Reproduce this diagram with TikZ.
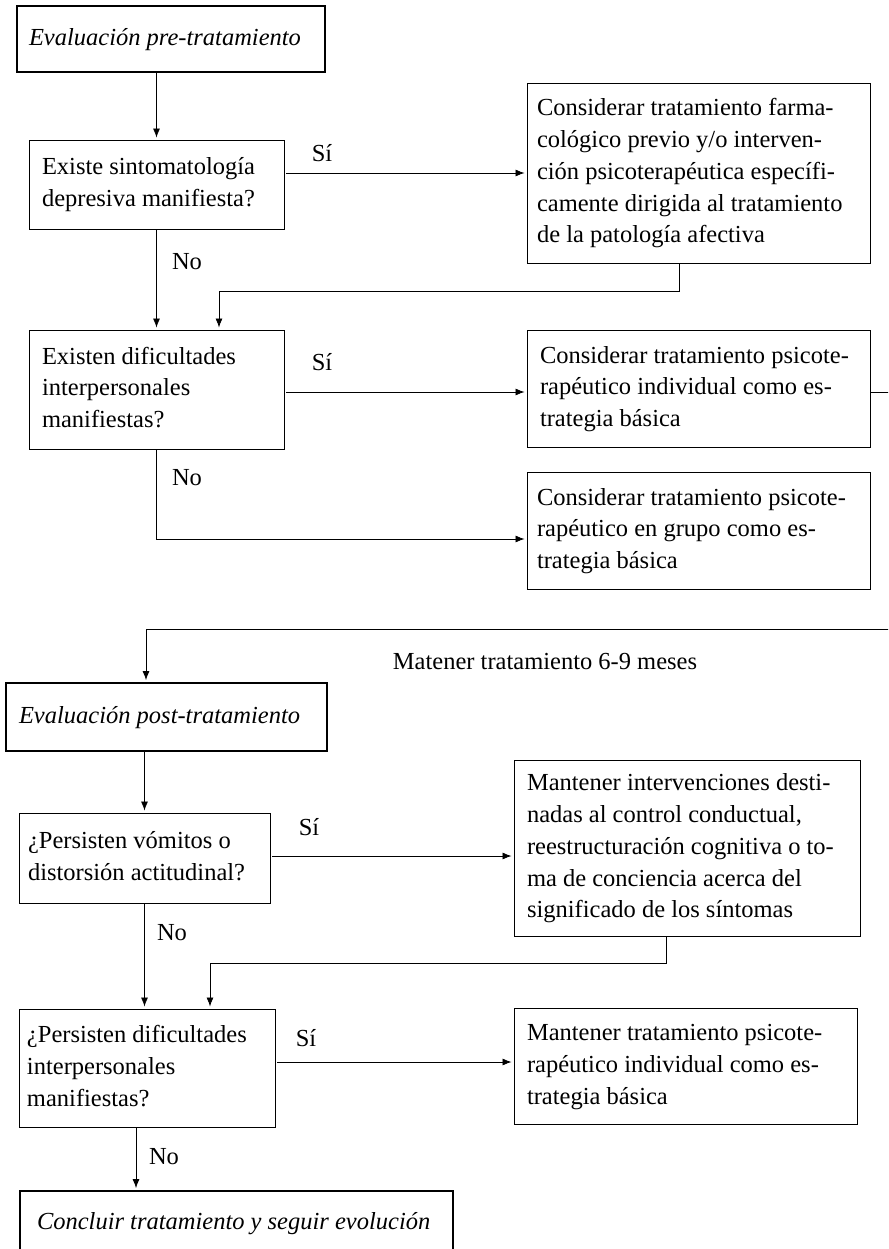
\documentclass[tikz,border=0pt]{standalone}
\usepackage{fontspec}
\setmainfont{Liberation Serif}
\usetikzlibrary{arrows.meta}
\newcommand\tbx[2]{\makebox[#1][l]{\begin{tabular}{@{}l@{}}#2\end{tabular}}}
\begin{document}
\begin{tikzpicture}[x=1pt,y=-1pt,
  font=\fontsize{24.5}{31.7}\selectfont,
  bx/.style={draw, line width=0.9pt, inner ysep=0pt},
  hv/.style={bx, line width=1.8pt, font=\fontsize{24.5}{31.7}\selectfont\itshape},
  arr/.style={line width=0.8pt, shorten >=2pt, -{Latex[length=9pt,width=7pt]}},
  lbl/.style={inner sep=0pt}]
\useasboundingbox (0,0) rectangle (888,1249);
\clip (0,0) rectangle (888,1249);

% boxes
\node[hv, inner xsep=12pt, minimum width=308pt, minimum height=66pt] (pre) at (171,39) {\tbx{284pt}{Evaluación pre-tratamiento}};
\node[bx, inner xsep=13pt, minimum width=255pt, minimum height=89pt] (dep) at (156.5,184.5) {\tbx{229pt}{Existe sintomatología\\depresiva manifiesta?}};
\node[bx, inner xsep=10pt, minimum width=343pt, minimum height=180pt] (farm) at (698.5,173) {\tbx{323pt}{Considerar tratamiento farma-\\cológico previo y/o interven-\\ción psicoterapéutica específi-\\camente dirigida al tratamiento\\de la patología afectiva}};
\node[bx, inner xsep=13pt, minimum width=255pt, minimum height=119pt] (dif) at (156.5,389.5) {\tbx{229pt}{Existen dificultades\\interpersonales\\manifiestas?}};
\node[bx, inner xsep=13pt, minimum width=343pt, minimum height=117pt] (ind) at (698.5,388.5) {\tbx{317pt}{Considerar tratamiento psicote-\\rapéutico individual como es-\\trategia básica}};
\node[bx, inner xsep=10pt, minimum width=343pt, minimum height=117pt] (grp) at (698.5,530.5) {\tbx{323pt}{Considerar tratamiento psicote-\\rapéutico en grupo como es-\\trategia básica}};
\node[hv, inner xsep=13pt, minimum width=321pt, minimum height=68pt] (post) at (166.5,717) {\tbx{295pt}{Evaluación post-tratamiento}};
\node[bx, inner xsep=13pt, minimum width=346pt, minimum height=176pt] (mant) at (687,848) {\tbx{320pt}{Mantener intervenciones desti-\\nadas al control conductual,\\reestructuración cognitiva o to-\\ma de conciencia acerca del\\significado de los síntomas}};
\node[bx, inner xsep=9pt, minimum width=251pt, minimum height=90pt] (vom) at (144.5,858) {\tbx{233pt}{¿Persisten vómitos o\\distorsión actitudinal?}};
\node[bx, inner xsep=8pt, minimum width=256pt, minimum height=118pt] (pdif) at (147,1068) {\tbx{240pt}{¿Persisten dificultades\\interpersonales\\manifiestas?}};
\node[bx, inner xsep=13pt, minimum width=343pt, minimum height=116pt] (mind) at (685.5,1066) {\tbx{317pt}{Mantener tratamiento psicote-\\rapéutico individual como es-\\trategia básica}};
\node[hv, inner xsep=17pt, minimum width=433pt, minimum height=64pt] (concl) at (236.5,1223) {\tbx{399pt}{Concluir tratamiento y seguir evolución}};

% labels
\node[lbl] (s1) at (322,153) {Sí};
\node[lbl] (n1) at (187,262) {No};
\node[lbl] (s2) at (322,362) {Sí};
\node[lbl] (n2) at (187,478) {No};
\node[lbl] (mt) at (545,662) {Matener tratamiento 6-9 meses};
\node[lbl] (s3) at (309,827) {Sí};
\node[lbl] (n3) at (172,933) {No};
\node[lbl] (s4) at (306,1038) {Sí};
\node[lbl] (n4) at (164,1157) {No};

% helper coordinates
\coordinate (ia) at ([yshift=-3.5pt]ind.west);
\coordinate (ie) at ([yshift=-3.5pt]ind.east);
\coordinate (ga) at ([yshift=-8.5pt]grp.west);
\coordinate (va) at ([yshift=2pt]vom.east);
\coordinate (pa) at ([yshift=6pt]pdif.east);
\coordinate (pn) at ([xshift=-11pt]pdif.south);

% connectors
\draw[arr] (pre.south -| dep.north) -- (dep.north);
\draw[arr] ([xshift=2pt]dep.east |- farm.west) -- (farm.west);
\draw[arr] (dep.south) -- (dif.north);
\draw[arr] ([xshift=-19.5pt]farm.south) -- ++(0,28) -| ([xshift=62.5pt]dif.north);
\draw[arr] ([xshift=2pt]dif.east |- ia) -- (ia);
\draw[arr] (dif.south) |- (ga);
\draw[arr] (ie) -- ++(40,0) -- ++(0,237) -| ([xshift=-20.5pt]post.north);
\draw[arr] (vom.north |- post.south) -- (vom.north);
\draw[arr] ([xshift=2pt]va) -- (va -| mant.west);
\draw[arr] (vom.south) -- (vom.south |- pdif.north);
\draw[arr] ([xshift=-21pt]mant.south) -- ++(0,27) -| ([xshift=63pt]pdif.north);
\draw[arr] ([xshift=2pt]pa) -- (pa -| mind.west);
\draw[arr] (pn) -- (pn |- concl.north);
\end{tikzpicture}
\end{document}
